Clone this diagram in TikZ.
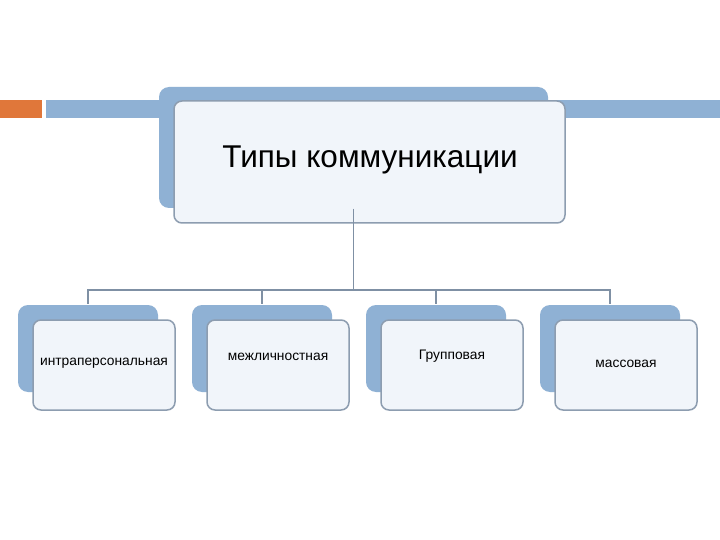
\documentclass[tikz,border=0pt]{standalone}
\usepackage{fontspec}
\setmainfont{Liberation Sans}
\usetikzlibrary{positioning}
\definecolor{cback}{HTML}{8FB1D4}
\definecolor{cfront}{HTML}{F1F5FA}
\definecolor{cedge}{HTML}{8D9DB0}
\definecolor{cline}{HTML}{7F90A4}
\definecolor{corange}{HTML}{E0773A}
\tikzset{
  every picture/.style={x=1pt, y=-1pt, line width=1.5pt},
  backbox/.style={fill=cback, rounded corners=10pt, inner sep=0pt},
  frontbox/.style={draw=cedge, fill=cfront, rounded corners=8pt, inner sep=0pt},
  conn/.style={draw=cline, line width=1.6pt},
  label/.style={font=\fontsize{13.8}{16}\selectfont, inner sep=0pt},
}

\begin{document}
\begin{tikzpicture}
  \useasboundingbox[fill=white] (0,0) rectangle (720,540);
  % header bars
  \fill[corange] (0,100) rectangle (42,118);
  \fill[cback] (46,100) rectangle (720,118);
  % top box
  \node[backbox, minimum width=389pt, minimum height=121pt] (topback) at (353.5,147.5) {};
  \node[frontbox, minimum width=391pt, minimum height=122pt] (topfront) at (369.5,162) {};
  \node[font=\fontsize{31.5}{36}\selectfont, inner sep=0pt] (title) at (370,160) {Типы коммуникации};
  \coordinate (bus) at (353.5,290);
  \draw[conn] (topback.south) -- (bus);
  % lower boxes
  \foreach \t/\dy [count=\i from 0] in {интраперсональная/2, межличностная/8, Групповая/9, массовая/1} {
    \node[backbox, minimum width=140pt, minimum height=87pt] (back\i) at (88+174*\i,348.5) {};
    \node[frontbox, minimum width=142pt, minimum height=90pt] (front\i) at (104+174*\i,365) {};
    \node[label] (txt\i) at (front\i) [yshift=\dy pt] {\t};
    \draw[conn] (bus) -| (back\i.north);
  }
\end{tikzpicture}
\end{document}
